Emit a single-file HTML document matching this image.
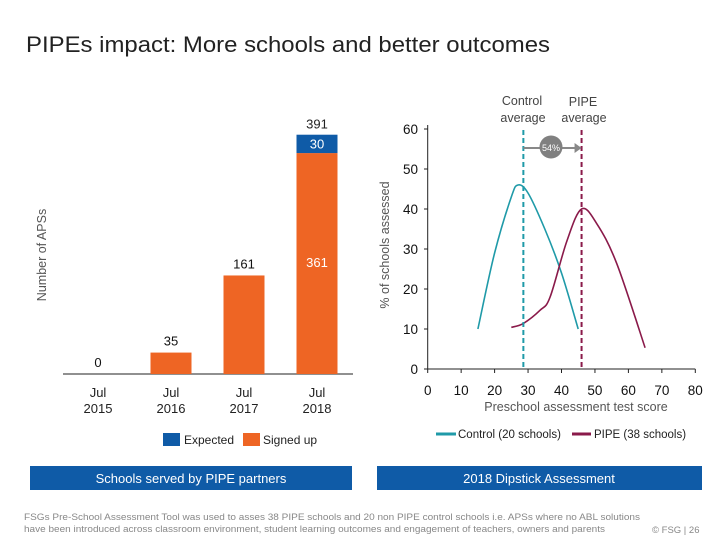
<!DOCTYPE html>
<html><head><meta charset="utf-8"><style>
body{margin:0;width:720px;height:540px;background:#fff;overflow:hidden;font-family:"Liberation Sans",sans-serif}
svg{position:absolute;left:0;top:0}
</style></head><body>
<svg width="720" height="540">
<text x="26" y="52" font-size="22" textLength="524" lengthAdjust="spacingAndGlyphs" fill="#222">PIPEs impact: More schools and better outcomes</text>
<g id="bars"></g>
<g id="lines"></g>
<g>
<rect x="163" y="433" width="17" height="13" fill="#0f5ba7"/>
<text x="184" y="444" font-size="12" fill="#222">Expected</text>
<rect x="243" y="433" width="17" height="13" fill="#ee6524"/>
<text x="263" y="444" font-size="12" fill="#222">Signed up</text>
</g>
<g>
<line x1="436" y1="434" x2="456" y2="434" stroke="#1f9aa8" stroke-width="3"/>
<text x="458" y="438" font-size="11.5" fill="#222">Control (20 schools)</text>
<line x1="572" y1="434" x2="591" y2="434" stroke="#8a1a4a" stroke-width="3"/>
<text x="594" y="438" font-size="11.5" fill="#222">PIPE (38 schools)</text>
</g>
<rect x="30" y="466" width="322" height="24" fill="#0f5ba7"/>
<text x="191" y="483" font-size="13" fill="#fff" text-anchor="middle">Schools served by PIPE partners</text>
<rect x="377" y="466" width="325" height="24" fill="#0f5ba7"/>
<text x="539" y="483" font-size="13" fill="#fff" text-anchor="middle">2018 Dipstick Assessment</text>
<text x="24" y="520" font-size="9" textLength="616" lengthAdjust="spacingAndGlyphs" fill="#888">FSGs Pre-School Assessment Tool was used to asses 38 PIPE schools and 20 non PIPE control schools i.e. APSs where no ABL solutions</text>
<text x="24" y="532" font-size="9" textLength="581" lengthAdjust="spacingAndGlyphs" fill="#888">have been introduced across classroom environment, student learning outcomes and engagement of teachers, owners and parents</text>
<text x="652" y="533" font-size="9.5" fill="#888">© FSG  | 26</text>
</svg>
<script>
const years = ["Jul|2015","Jul|2016","Jul|2017","Jul|2018"];
const signedUp = [0,35,161,361];
const expected = [0,0,0,30];
const controlX = [15,20,25,27,30,35,40,45];
const controlY = [10,29,43,46,44,35,24,10];
const pipeX = [25,28.6,33.6,36.6,41.6,46,50.5,56.5,65];
const pipeY = [10.4,11.4,14.7,18,32,40,36.4,26.4,5.3];
const xTicks = [0,10,20,30,40,50,60,70,80];
const yTicks = [0,10,20,30,40,50,60];
const controlAvg = 28.6, pipeAvg = 46;

const NS="http://www.w3.org/2000/svg";
function mk(p,t,a,txt){const e=document.createElementNS(NS,t);for(const k in a)e.setAttribute(k,a[k]);if(txt!==undefined)e.textContent=txt;p.appendChild(e);return e;}
const bg=document.getElementById('bars');
const by=v=>374-v*0.612, bx=i=>98+i*73;
mk(bg,'line',{x1:63,y1:374,x2:353,y2:374,stroke:'#222','stroke-width':1});
const yl=mk(bg,'text',{x:46,y:255,'font-size':12.5,fill:'#555','text-anchor':'middle',transform:'rotate(-90 46 255)'},'Number of APSs');


years.forEach((y,i)=>{
  const x=bx(i);
  if(signedUp[i]>0){const r=mk(bg,'rect',{x:x-20.5,y:by(signedUp[i]),width:41,height:signedUp[i]*0.612,fill:'#ee6524'});
    
    }
  if(expected[i]>0){const r=mk(bg,'rect',{x:x-20.5,y:by(signedUp[i]+expected[i]),width:41,height:expected[i]*0.612,fill:'#0f5ba7'});
    
    
    mk(bg,'text',{x:x,y:by(signedUp[i]+expected[i])+14,'font-size':13,fill:'#fff','text-anchor':'middle'},expected[i]);
    mk(bg,'text',{x:x,y:by(signedUp[i])+114,'font-size':13,fill:'#fff','text-anchor':'middle'},signedUp[i]);
    mk(bg,'text',{x:x,y:by(signedUp[i]+expected[i])-6,'font-size':13,fill:'#222','text-anchor':'middle'},signedUp[i]+expected[i]);
  } else {
    mk(bg,'text',{x:x,y:by(signedUp[i])-7,'font-size':13,fill:'#111','text-anchor':'middle'},signedUp[i]);
  }
  const p=y.split('|');
  mk(bg,'text',{x:x,y:397,'font-size':13,fill:'#222','text-anchor':'middle'},p[0]);
  mk(bg,'text',{x:x,y:413,'font-size':13,fill:'#222','text-anchor':'middle'},p[1]);
});
const lg=document.getElementById('lines');
const lx=v=>427.7+v*3.345, ly=v=>369-v*4.0;
mk(lg,'line',{x1:427.7,y1:ly(0),x2:695.3,y2:ly(0),stroke:'#222'});
mk(lg,'line',{x1:427.7,y1:ly(0),x2:427.7,y2:ly(61),stroke:'#222'});
xTicks.forEach(t=>{mk(lg,'line',{x1:lx(t),y1:369,x2:lx(t),y2:373,stroke:'#222'});
  mk(lg,'text',{x:lx(t),y:395,'font-size':13.5,fill:'#111','text-anchor':'middle'},t);});
yTicks.forEach(t=>{mk(lg,'line',{x1:424,y1:ly(t),x2:427.7,y2:ly(t),stroke:'#222'});
  mk(lg,'text',{x:418,y:ly(t)+5,'font-size':13.5,fill:'#111','text-anchor':'end'},t);});
const xt=mk(lg,'text',{x:576,y:411,'font-size':12.5,fill:'#555','text-anchor':'middle'},'Preschool assessment test score');


const yt=mk(lg,'text',{x:389,y:245,'font-size':12.5,fill:'#555','text-anchor':'middle',transform:'rotate(-90 389 245)'},'% of schools assessed');


function path(xs,ys){
  const P=xs.map((x,i)=>[lx(x),ly(ys[i])]);
  let d='M'+P[0][0].toFixed(1)+','+P[0][1].toFixed(1);
  for(let i=0;i<P.length-1;i++){
    const p0=P[Math.max(i-1,0)],p1=P[i],p2=P[i+1],p3=P[Math.min(i+2,P.length-1)];
    const c1=[p1[0]+(p2[0]-p0[0])/6,p1[1]+(p2[1]-p0[1])/6];
    const c2=[p2[0]-(p3[0]-p1[0])/6,p2[1]-(p3[1]-p1[1])/6];
    d+='C'+c1.map(v=>v.toFixed(1)).join(',')+' '+c2.map(v=>v.toFixed(1)).join(',')+' '+p2.map(v=>v.toFixed(1)).join(',');
  }
  return d;}
const cl=mk(lg,'path',{d:path(controlX,controlY),fill:'none',stroke:'#1f9aa8','stroke-width':1.6,'stroke-linejoin':'round'});


const pl=mk(lg,'path',{d:path(pipeX,pipeY),fill:'none',stroke:'#8a1a4a','stroke-width':1.6,'stroke-linejoin':'round'});


const ca=mk(lg,'line',{x1:lx(controlAvg),y1:130,x2:lx(controlAvg),y2:369,stroke:'#1f9aa8','stroke-width':2,'stroke-dasharray':'5,3'});


const pa=mk(lg,'line',{x1:lx(pipeAvg),y1:130,x2:lx(pipeAvg),y2:369,stroke:'#8a1a4a','stroke-width':2,'stroke-dasharray':'5,3'});


mk(lg,'line',{x1:lx(controlAvg),y1:148,x2:lx(pipeAvg)-6,y2:148,stroke:'#888','stroke-width':2});
mk(lg,'path',{d:`M${lx(pipeAvg)-7},143L${lx(pipeAvg)},148L${lx(pipeAvg)-7},153Z`,fill:'#888'});
mk(lg,'circle',{cx:551,cy:147,r:11.5,fill:'#808080'});
mk(lg,'text',{x:551,y:151,'font-size':9,fill:'#fff','text-anchor':'middle'},'54%');
mk(lg,'text',{x:522,y:105,'font-size':12.5,fill:'#444','text-anchor':'middle'},'Control');
mk(lg,'text',{x:523,y:122,'font-size':12.5,fill:'#444','text-anchor':'middle'},'average');
mk(lg,'text',{x:583,y:106,'font-size':12.5,fill:'#444','text-anchor':'middle'},'PIPE');
mk(lg,'text',{x:584,y:122,'font-size':12.5,fill:'#444','text-anchor':'middle'},'average');
</script>
</body></html>
